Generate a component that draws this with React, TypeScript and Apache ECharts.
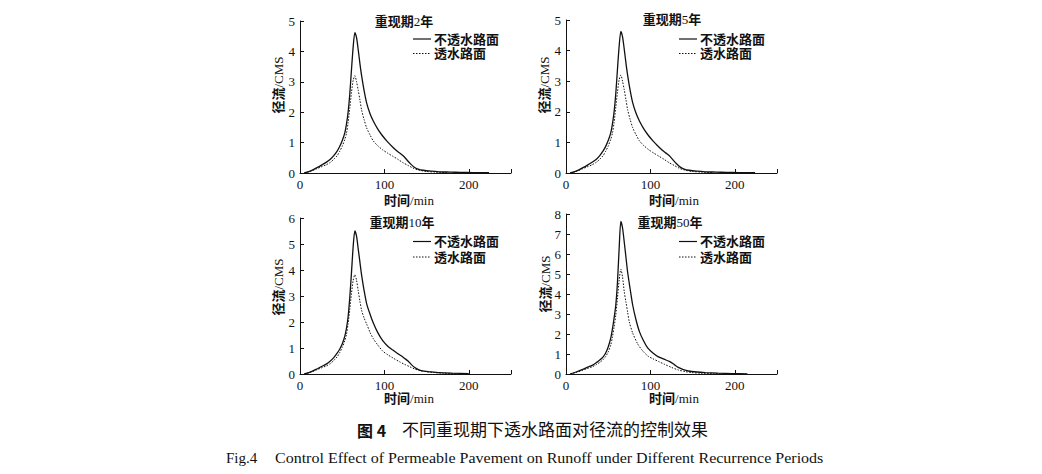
import React, { useEffect, useRef } from "react";
import * as echarts from "echarts";

// ---- Data (time in min, runoff in CMS) ----
const titleYears = ["2", "5", "10", "50"];
const yMaxes = [5, 5, 6, 8];
const xTicks = [0, 100, 200];
const seriesNames = ["不透水路面", "透水路面"];

const p1ImpT = [5, 12, 19, 25, 31, 36, 40, 44, 47, 50, 53, 55, 57, 59, 61, 63, 65, 67, 69, 71, 73, 76, 79, 83, 87, 92, 97, 103, 110, 116, 120, 124, 127, 131, 135, 140, 146, 155, 165, 178, 190, 205, 224];
const p1ImpV = [0, 0.06, 0.16, 0.25, 0.35, 0.45, 0.57, 0.72, 0.87, 1.06, 1.31, 1.6, 2.0, 2.6, 3.4, 4.15, 4.62, 4.45, 4.05, 3.6, 3.2, 2.7, 2.3, 1.95, 1.7, 1.45, 1.25, 1.05, 0.85, 0.7, 0.62, 0.52, 0.42, 0.3, 0.2, 0.13, 0.09, 0.06, 0.04, 0.03, 0.02, 0.015, 0.01];
const p1PerT = [5, 12, 19, 25, 31, 36, 40, 44, 47, 50, 53, 55, 57, 59, 61, 63, 65, 67, 69, 71, 73, 76, 79, 83, 87, 92, 98, 104, 110, 116, 122, 128, 134, 140, 150, 160, 174];
const p1PerV = [0, 0.05, 0.13, 0.2, 0.27, 0.35, 0.45, 0.57, 0.71, 0.88, 1.1, 1.3, 1.65, 2.15, 2.65, 3.05, 3.2, 3.0, 2.72, 2.4, 2.07, 1.75, 1.48, 1.25, 1.05, 0.9, 0.76, 0.65, 0.55, 0.45, 0.34, 0.25, 0.16, 0.1, 0.05, 0.03, 0.01];

const p2ImpT = [5, 12, 19, 25, 31, 36, 40, 44, 47, 50, 53, 55, 57, 59, 61, 63, 65, 67, 69, 71, 73, 76, 79, 83, 87, 92, 97, 103, 110, 116, 120, 124, 127, 131, 135, 140, 146, 155, 165, 178, 190, 205, 224];
const p2ImpV = [0, 0.06, 0.16, 0.25, 0.35, 0.45, 0.57, 0.72, 0.87, 1.06, 1.31, 1.6, 2.0, 2.6, 3.4, 4.15, 4.63, 4.45, 4.05, 3.6, 3.2, 2.7, 2.3, 1.95, 1.7, 1.45, 1.25, 1.05, 0.85, 0.7, 0.62, 0.52, 0.42, 0.3, 0.2, 0.13, 0.09, 0.06, 0.04, 0.03, 0.02, 0.015, 0.01];
const p2PerT = [5, 12, 19, 25, 31, 36, 40, 44, 47, 50, 53, 55, 57, 59, 61, 63, 65, 67, 69, 71, 73, 76, 79, 83, 87, 92, 98, 104, 110, 116, 122, 128, 134, 140, 150, 160, 174];
const p2PerV = [0, 0.05, 0.13, 0.2, 0.27, 0.35, 0.45, 0.57, 0.71, 0.88, 1.1, 1.3, 1.65, 2.15, 2.65, 3.05, 3.2, 3.0, 2.72, 2.4, 2.07, 1.75, 1.48, 1.25, 1.05, 0.9, 0.76, 0.65, 0.55, 0.45, 0.34, 0.25, 0.16, 0.1, 0.05, 0.03, 0.01];

const p3ImpT = [5, 12, 19, 25, 31, 36, 40, 44, 47, 50, 53, 55, 57, 59, 61, 63, 65, 67, 69, 71, 73, 76, 79, 83, 87, 92, 98, 104, 110, 116, 120, 124, 128, 132, 136, 141, 147, 155, 165, 180, 200];
const p3ImpV = [0, 0.07, 0.18, 0.28, 0.38, 0.5, 0.63, 0.8, 0.95, 1.15, 1.45, 1.75, 2.2, 2.95, 3.9, 4.9, 5.5, 5.3, 4.8, 4.3, 3.8, 3.2, 2.7, 2.3, 1.95, 1.6, 1.28, 1.07, 0.92, 0.78, 0.7, 0.6, 0.5, 0.36, 0.25, 0.16, 0.11, 0.08, 0.05, 0.03, 0.01];
const p3PerT = [5, 12, 19, 25, 31, 36, 40, 44, 47, 50, 53, 55, 57, 59, 61, 63, 65, 67, 69, 71, 73, 76, 79, 83, 87, 92, 98, 104, 110, 118, 124, 130, 136, 142, 149, 158, 170, 185];
const p3PerV = [0, 0.06, 0.15, 0.23, 0.31, 0.4, 0.52, 0.66, 0.82, 1.02, 1.27, 1.52, 1.93, 2.5, 3.1, 3.6, 3.82, 3.6, 3.2, 2.8, 2.45, 2.15, 1.92, 1.6, 1.35, 1.12, 0.88, 0.74, 0.62, 0.47, 0.37, 0.28, 0.19, 0.13, 0.09, 0.06, 0.03, 0.01];

const p4ImpT = [5, 12, 19, 25, 31, 36, 40, 44, 47, 50, 53, 55, 57, 59, 61, 63, 65, 67, 69, 71, 73, 76, 79, 83, 87, 92, 97, 103, 109, 116, 123, 128, 133, 139, 145, 155, 165, 180, 197, 215];
const p4ImpV = [0, 0.1, 0.22, 0.33, 0.43, 0.57, 0.7, 0.86, 1.05, 1.35, 1.79, 2.25, 2.8, 3.45, 4.6, 6.3, 7.63, 7.3, 6.6, 5.85, 5.1, 4.25, 3.45, 2.7, 2.12, 1.65, 1.29, 1.05, 0.87, 0.74, 0.62, 0.48, 0.33, 0.22, 0.15, 0.1, 0.07, 0.04, 0.02, 0.01];
const p4PerT = [5, 12, 19, 25, 31, 36, 40, 44, 47, 50, 53, 55, 57, 59, 61, 63, 65, 67, 69, 71, 73, 75, 79, 85, 91, 97, 103, 110, 117, 125, 133, 141, 149, 160, 175, 190];
const p4PerV = [0, 0.08, 0.18, 0.27, 0.36, 0.47, 0.58, 0.72, 0.88, 1.1, 1.45, 1.85, 2.35, 2.95, 3.8, 4.7, 5.24, 4.85, 4.12, 3.6, 3.1, 2.6, 2.05, 1.5, 1.15, 0.9, 0.76, 0.62, 0.48, 0.33, 0.2, 0.12, 0.07, 0.04, 0.02, 0.01];

const panelData = [
  [p1ImpT, p1ImpV, p1PerT, p1PerV],
  [p2ImpT, p2ImpV, p2PerT, p2PerV],
  [p3ImpT, p3ImpV, p3PerT, p3PerV],
  [p4ImpT, p4ImpV, p4PerT, p4PerV],
];

const captionCn = "不同重现期下透水路面对径流的控制效果";
const captionCnLabel = "图 4";
const captionEnLabel = "Fig.4";
const captionEn = "Control Effect of Permeable Pavement on Runoff under Different Recurrence Periods";

// ---- Layout ----
const layout = [
  { left: 300, top: 21, h: 152, titleX: 404, titleY: 21, yNameX: 278, yNameY: 85, xNameX: 409, xNameY: 200, legY1: 39, legY2: 53.5 },
  { left: 566, top: 20, h: 153, titleX: 672, titleY: 19, yNameX: 544, yNameY: 85, xNameX: 674, xNameY: 200, legY1: 39, legY2: 53.5 },
  { left: 300, top: 218, h: 156, titleX: 402, titleY: 222, yNameX: 278, yNameY: 287, xNameX: 409, xNameY: 398, legY1: 241.5, legY2: 257 },
  { left: 566, top: 214, h: 160, titleX: 670, titleY: 222, yNameX: 545, yNameY: 284, xNameX: 674, xNameY: 398, legY1: 241.5, legY2: 257 },
];
const GRID_W = 211;
const SERIF = "'Liberation Serif', 'Noto Sans CJK SC', serif";
const SANS = "'Noto Sans CJK SC', sans-serif";
const INK = "#111";

const zip = (t: number[], v: number[]) => t.map((x, i) => [x, v[i]]);

export default function App() {
  const ref = useRef<HTMLDivElement>(null);
  useEffect(() => {
    if (!ref.current) return;
    const chart = echarts.init(ref.current, undefined, { renderer: "svg" });

    const grid = layout.map((l) => ({ left: l.left, top: l.top, width: GRID_W, height: l.h, containLabel: false }));
    const axisCommon = {
      axisLine: { show: true, lineStyle: { color: INK, width: 1 } },
      axisTick: { show: true, inside: true, length: 4, lineStyle: { color: INK } },
      splitLine: { show: false },
    };
    const xAxis = layout.map((_, i) => ({
      type: "value",
      gridIndex: i,
      min: 0,
      max: 250,
      interval: 100,
      ...axisCommon,
      axisLabel: {
        fontFamily: SERIF,
        fontSize: 13,
        color: INK,
        margin: 5,
        formatter: (v: number) => (xTicks.includes(v) ? String(v) : ""),
      },
    }));
    const yAxis = layout.map((_, i) => ({
      type: "value",
      gridIndex: i,
      min: 0,
      max: yMaxes[i],
      interval: 1,
      ...axisCommon,
      axisLabel: { fontFamily: SERIF, fontSize: 13, color: INK, margin: 5 },
    }));
    const series: any[] = [];
    panelData.forEach((d, i) => {
      series.push({
        type: "line",
        name: seriesNames[0],
        xAxisIndex: i,
        yAxisIndex: i,
        data: zip(d[0], d[1]),
        showSymbol: false,
        symbol: "none",
        smooth: 0.25,
        lineStyle: { color: INK, width: 1.3, type: "solid" },
      });
      series.push({
        type: "line",
        name: seriesNames[1],
        xAxisIndex: i,
        yAxisIndex: i,
        data: zip(d[2], d[3]),
        showSymbol: false,
        symbol: "none",
        smooth: 0.25,
        lineStyle: { color: INK, width: 1, type: [1.5, 1.5] },
      });
    });

    const boldFont = `bold 13px ${SERIF}`;
    const graphic: any[] = [];
    layout.forEach((l, i) => {
      const legX = l.left + 113;
      graphic.push({
        type: "text",
        x: l.titleX,
        y: l.titleY,
        style: {
          text: `{b|重现期}${titleYears[i]}{b|年}`,
          rich: { b: { font: boldFont, fill: INK, lineHeight: 13 } },
          font: `13px ${SERIF}`,
          fill: INK,
          align: "center",
          verticalAlign: "middle",
          lineHeight: 13,
        },
      });
      graphic.push({
        type: "text",
        x: l.yNameX,
        y: l.yNameY,
        rotation: Math.PI / 2,
        style: {
          text: "{b|径流}/CMS",
          rich: { b: { font: boldFont, fill: INK, lineHeight: 13 } },
          font: `13px ${SERIF}`,
          fill: INK,
          align: "center",
          verticalAlign: "middle",
          lineHeight: 13,
        },
      });
      graphic.push({
        type: "text",
        x: l.xNameX,
        y: l.xNameY,
        style: {
          text: "{b|时间}/min",
          rich: { b: { font: boldFont, fill: INK, lineHeight: 13 } },
          font: `13px ${SERIF}`,
          fill: INK,
          align: "center",
          verticalAlign: "middle",
          lineHeight: 13,
        },
      });
      graphic.push({
        type: "line",
        shape: { x1: legX, y1: l.legY1, x2: legX + 18, y2: l.legY1 },
        style: { stroke: INK, lineWidth: 1.2 },
      });
      graphic.push({
        type: "line",
        shape: { x1: legX, y1: l.legY2, x2: legX + 18, y2: l.legY2 },
        style: { stroke: INK, lineWidth: 1, lineDash: [1.5, 1.5] },
      });
      [seriesNames[0], seriesNames[1]].forEach((n, k) => {
        graphic.push({
          type: "text",
          x: legX + 21,
          y: k === 0 ? l.legY1 : l.legY2,
          style: {
            text: n,
            font: boldFont,
            fill: INK,
            align: "left",
            verticalAlign: "middle",
            lineHeight: 13,
          },
        });
      });
    });
    graphic.push({
      type: "text",
      x: 357,
      y: 430,
      style: { text: captionCnLabel, font: `bold 16px ${SANS}`, fill: INK, align: "left", verticalAlign: "middle" },
    });
    graphic.push({
      type: "text",
      x: 402,
      y: 430,
      style: { text: captionCn, font: `17px ${SERIF}`, fill: INK, align: "left", verticalAlign: "middle" },
    });
    graphic.push({
      type: "text",
      x: 226,
      y: 458,
      style: { text: captionEnLabel, font: `15px ${SERIF}`, fill: INK, align: "left", verticalAlign: "middle" },
    });
    graphic.push({
      type: "text",
      x: 275,
      y: 458,
      scaleX: 1.068,
      style: { text: captionEn, font: `15px ${SERIF}`, fill: INK, align: "left", verticalAlign: "middle" },
    });

    chart.setOption({
      animation: false,
      backgroundColor: "#fff",
      grid,
      xAxis,
      yAxis,
      series,
      graphic,
    } as any);
    return () => chart.dispose();
  }, []);
  return <div ref={ref} style={{ position: "absolute", left: 0, top: 0, width: 1042, height: 474 }} />;
}
